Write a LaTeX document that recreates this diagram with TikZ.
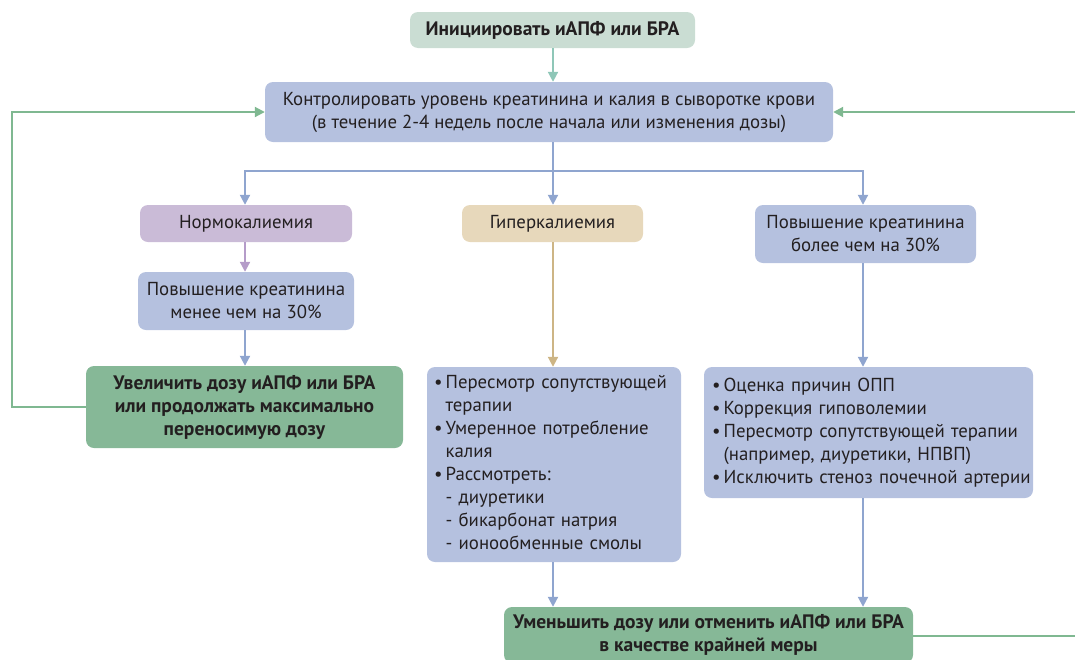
\documentclass[tikz,border=0pt]{standalone}
\usepackage{fontspec}
\setmainfont{PT Sans}
\usetikzlibrary{arrows.meta}
\definecolor{initc}{HTML}{CADDD3}
\definecolor{bluec}{HTML}{B5C1DF}
\definecolor{lavc}{HTML}{CABBD7}
\definecolor{tanc}{HTML}{E7D8BB}
\definecolor{greenc}{HTML}{86B897}
\definecolor{arrblue}{HTML}{8FA5CF}
\definecolor{arrteal}{HTML}{8FC7B8}
\definecolor{arrlav}{HTML}{B59CC9}
\definecolor{arrtan}{HTML}{CDB585}
\definecolor{arrgreen}{HTML}{7FB891}
\definecolor{txt}{HTML}{231F20}
\newcommand{\regf}{\fontsize{18.8}{23}\selectfont}
\newcommand{\boldf}{\fontsize{19.5}{23}\selectfont\bfseries}
\tikzset{
  box/.style={rounded corners=8pt, draw=none, text=txt, align=center, inner sep=0pt,
    font=\regf},
  boldbox/.style={box, font=\boldf},
  lst/.style={box, align=left},
  conn/.style={line width=2pt, -{Triangle[length=10pt,width=10pt]}},
  plain/.style={line width=2pt},
}
\begin{document}
\begin{tikzpicture}[x=1pt,y=-1pt]
\useasboundingbox (0,0) rectangle (1075,659);
\node[boldbox, fill=initc, minimum width=285pt, minimum height=36pt] (init) at (552.5,30) {Инициировать иАПФ или БРА};
\node[box, fill=bluec, minimum width=568pt, minimum height=60pt] (ctrl) at (549,112)
  {Контролировать уровень креатинина и калия в сыворотке крови\\(в течение 2-4 недель после начала или изменения дозы)};
\node[box, fill=lavc, minimum width=212pt, minimum height=37pt] (normo) at (246,223.5) {Нормокалиемия};
\node[box, fill=tanc, minimum width=181pt, minimum height=37pt] (hyper) at (552.5,223.5) {Гиперкалиемия};
\node[box, fill=bluec, minimum width=221pt, minimum height=58pt] (crup) at (865.5,234) {Повышение креатинина\\более чем на 30\%};
\node[box, fill=bluec, minimum width=216pt, minimum height=58pt] (crlow) at (246,301) {Повышение креатинина\\менее чем на 30\%};
\node[boldbox, fill=greenc, minimum width=317pt, minimum height=82pt] (inc) at (244.5,407)
  {Увеличить дозу иАПФ или БРА\\или продолжать максимально\\переносимую дозу};
\node[lst, fill=bluec, minimum width=254pt, minimum height=195pt, text width=240pt] (hyplist) at (554,464.5)
  {\begin{tabular}{@{}l@{\,}l@{}}
   •&Пересмотр сопутствующей\\ &терапии\\
   •&Умеренное потребление\\ &калия\\
   •&Рассмотреть:\\
   &- диуретики\\ &- бикарбонат натрия\\ &- ионообменные смолы
   \end{tabular}};
\node[lst, fill=bluec, minimum width=329pt, minimum height=131pt, text width=313pt] (crlist) at (868.5,432.5)
  {\begin{tabular}{@{}l@{\,}l@{}}
   •&Оценка причин ОПП\\
   •&Коррекция гиповолемии\\
   •&Пересмотр сопутствующей терапии\\ &(например, диуретики, НПВП)\\
   •&Исключить стеноз почечной артерии
   \end{tabular}};
\node[boldbox, fill=greenc, minimum width=409pt, minimum height=56pt] (dec) at (708.5,635)
  {Уменьшить дозу или отменить иАПФ или БРА\\в качестве крайней меры};
% connectors
\coordinate (split) at (553,171);
\coordinate (cL) at (245,171);
\coordinate (cR) at (863,171);
\coordinate (rin) at (1075,112);
\coordinate (rout) at (1075,636);
\draw[conn, arrteal] (init.south -| split) -- (ctrl.north -| split);
\draw[plain, arrblue] (ctrl.south -| split) -- (split);
\draw[conn, arrblue] (split) -- (cL) -- (normo.north -| cL);
\draw[conn, arrblue] (split) -- (hyper.north -| split);
\draw[conn, arrblue] (split) -- (cR) -- (crup.north -| cR);
\draw[conn, arrlav] (normo.south -| cL) -- (crlow.north -| cL);
\draw[conn, arrblue] (crlow.south -| cL) -- (inc.north -| cL);
\draw[conn, arrtan] (hyper.south -| split) -- (hyplist.north -| split);
\draw[conn, arrblue] (crup.south -| cR) -- (crlist.north -| cR);
\draw[conn, arrblue] (hyplist.south -| split) -- (dec.north -| split);
\draw[conn, arrblue] (crlist.south -| cR) -- (dec.north -| cR);
\draw[conn, arrgreen] (inc.west) -- ++(-74,0) |- (ctrl.west);
\draw[conn, arrgreen] (rin) -- (ctrl.east);
\draw[plain, arrgreen] (dec.east |- rout) -- (rout);
\end{tikzpicture}
\end{document}
